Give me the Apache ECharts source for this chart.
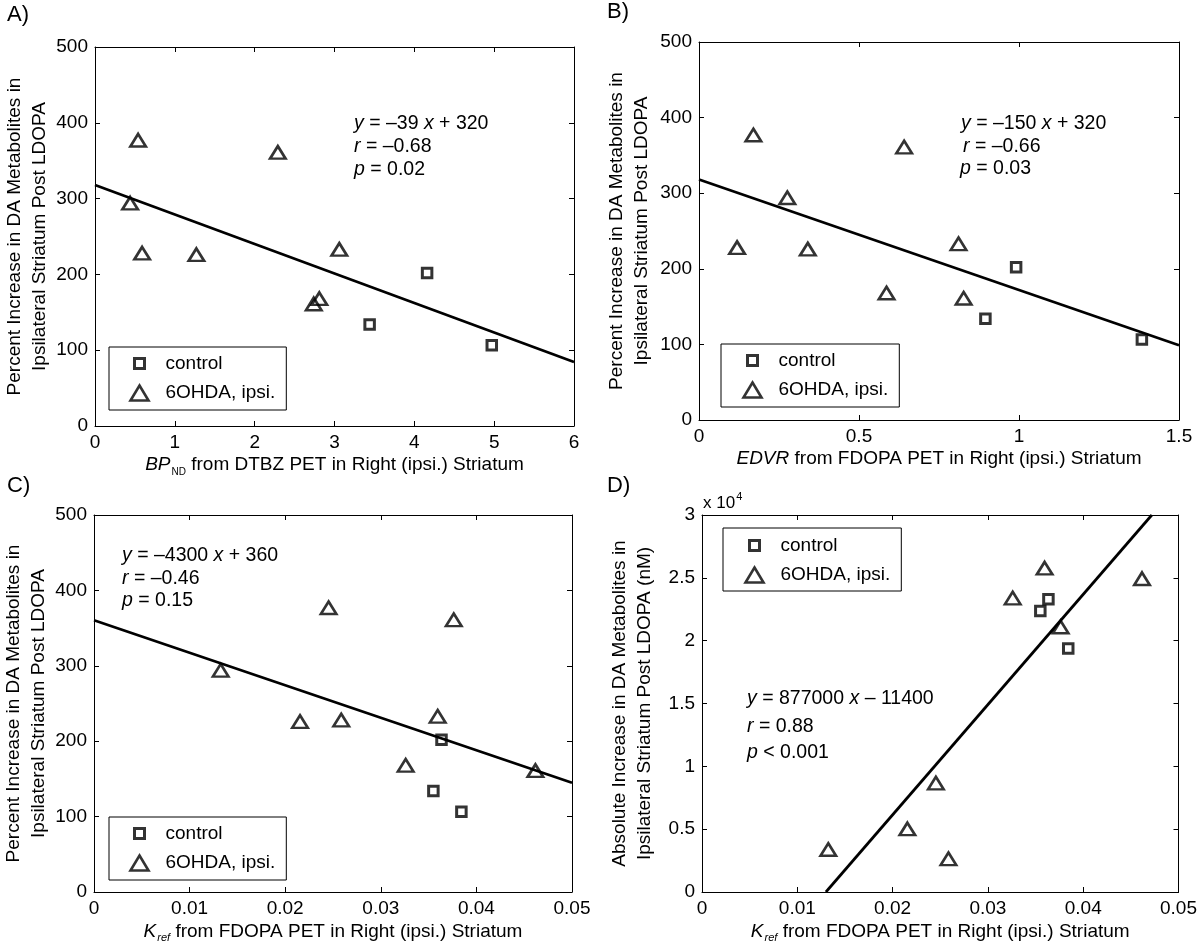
<!DOCTYPE html>
<html><head><meta charset="utf-8">
<script src="https://cdn.jsdelivr.net/npm/echarts@6/dist/echarts.min.js"></script>
<style>html,body{margin:0;padding:0;background:#fff}#c{width:1200px;height:951px}</style>
</head><body><div id="c"></div>
<script>
// ---- data ----
const ctrlPct  = [202, 134, 106.5];
const ohdaPct  = [377, 294, 228, 226, 361, 161, 168, 233];
const ctrlBP   = [4.16, 3.44, 4.97];
const ohdaBP   = [0.54, 0.44, 0.59, 1.27, 2.29, 2.74, 2.81, 3.06];
const ctrlEDVR = [0.991, 0.895, 1.384];
const ohdaEDVR = [0.17, 0.276, 0.119, 0.34, 0.641, 0.827, 0.586, 0.811];
const ctrlKref = [0.03635, 0.0355, 0.03843];
const ohdaKref = [0.02454, 0.01325, 0.02586, 0.02155, 0.03763, 0.04617, 0.0326, 0.03595];
const ctrlAbs  = [23290, 22360, 19380];
const ohdaAbs  = [8670, 3380, 2640, 5020, 21090, 24930, 23390, 25770];
const fitA = [[0, 318], [6, 84.5]];
const fitB = [[0, 318], [1.5, 99]];
const fitC = [[0, 360.5], [0.05, 145]];
const fitD = [[0.0130, 0], [0.0472, 30000]];
const ticksBP   = [0, 1, 2, 3, 4, 5, 6];
const ticksEDVR = [0, 0.5, 1, 1.5];
const ticksKref = [0, 0.01, 0.02, 0.03, 0.04, 0.05];
const ticksPct  = [0, 100, 200, 300, 400, 500];
const ticksAbs  = [0, 5000, 10000, 15000, 20000, 25000, 30000];
const eqA = ['{i|y} = \u201339 {i|x} + 320', '{i|r} = \u20130.68', '{i|p} = 0.02'];
const eqB = ['{i|y} = \u2013150 {i|x} + 320', '{i|r} = \u20130.66', '{i|p} = 0.03'];
const eqC = ['{i|y} = \u20134300 {i|x} + 360', '{i|r} = \u20130.46', '{i|p} = 0.15'];
const eqD = ['{i|y} = 877000 {i|x} \u2013 11400', '{i|r} = 0.88', '{i|p} < 0.001'];

const FONT = 'Liberation Sans';
const pctName = 'Percent Increase in DA Metabolites in\nIpsilateral Striatum Post LDOPA';
const absName = 'Absolute Increase in DA Metabolites in\nIpsilateral Striatum Post LDOPA (nM)';
const krefName = '{i|K}{sub|ref}{n| from FDOPA PET in Right (ipsi.) Striatum}';

const panels = [
  {letter:'A)', lx:7, ly:15, grid:{left:95, top:47, width:479, height:379}, yGap:43,
   xT:ticksBP, yT:ticksPct, xName:'{i|BP}{subn|ND}{n| from DTBZ PET in Right (ipsi.) Striatum}', yName:pctName,
   ctrl:[ctrlBP, ctrlPct], ohda:[ohdaBP, ohdaPct], fit:fitA,
   eq:eqA, eqPos:[[354,124],[354,147],[354,170]],
   leg:{left:109, top:347, pad:[7,11,7,20]}},
  {letter:'B)', lx:607, ly:12, grid:{left:699, top:42, width:480, height:378}, yGap:45,
   xT:ticksEDVR, yT:ticksPct, xName:'{i|EDVR}{n| from FDOPA PET in Right (ipsi.) Striatum}', yName:pctName,
   ctrl:[ctrlEDVR, ctrlPct], ohda:[ohdaEDVR, ohdaPct], fit:fitB,
   eq:eqB, eqPos:[[961,124],[963,147],[960,169]],
   leg:{left:721, top:344, pad:[7,11,7,21]}},
  {letter:'C)', lx:7, ly:486, grid:{left:94, top:515, width:478, height:377}, yGap:43,
   xT:ticksKref, yT:ticksPct, xName:krefName, yName:pctName,
   ctrl:[ctrlKref, ctrlPct], ohda:[ohdaKref, ohdaPct], fit:fitC,
   eq:eqC, eqPos:[[122,556],[122,579],[122,601]],
   leg:{left:109, top:817, pad:[7,11,7,20]}},
  {letter:'D)', lx:607, ly:486, grid:{left:702, top:515, width:479, height:377}, yGap:45,
   xT:ticksKref, yT:ticksAbs, xName:krefName, yName:absName, yFmt:v => String(v/10000),
   ctrl:[ctrlKref, ctrlAbs], ohda:[ohdaKref, ohdaAbs], fit:fitD,
   eq:eqD, eqPos:[[747,699],[747,727],[747,753]],
   leg:{left:723, top:528, pad:[8,11,6,21]}}
];

const rich = {
  i:{fontStyle:'italic', fontSize:19, fontFamily:FONT, color:'#000', lineHeight:24},
  n:{fontSize:19, fontFamily:FONT, color:'#000', lineHeight:24},
  sub:{fontStyle:'italic', fontSize:11, fontFamily:FONT, color:'#000', lineHeight:10, padding:[14,0,0,1]},
  subn:{fontSize:10, fontFamily:FONT, color:'#000', lineHeight:10, padding:[14,0,0,1]}
};

function rng(t){ return {min:t[0], max:t[t.length-1], interval:t[1]-t[0]}; }

const grid=[], xAxis=[], yAxis=[], series=[], legend=[], graphic=[];
panels.forEach((p, gi) => {
  grid.push(Object.assign({containLabel:false}, p.grid));
  const xr = rng(p.xT), yr = rng(p.yT);
  [true,false].forEach(main => {
    xAxis.push(Object.assign({gridIndex:gi, type:'value', position: main?'bottom':'top',
      axisLine:{show:true, onZero:false, lineStyle:{color:'#000', width:1}},
      axisTick:{show:true, inside:true, length:5, lineStyle:{color:'#000'}},
      axisLabel:{show:main, fontSize:19, color:'#000', fontFamily:FONT, margin:7},
      splitLine:{show:false},
      name: main ? p.xName : '', nameLocation:'middle', nameGap:27,
      nameTextStyle:{fontSize:19, fontFamily:FONT, color:'#000', rich:rich}}, xr));
    yAxis.push(Object.assign({gridIndex:gi, type:'value', position: main?'left':'right',
      axisLine:{show:true, onZero:false, lineStyle:{color:'#000', width:1}},
      axisTick:{show:true, inside:true, length:5, lineStyle:{color:'#000'}},
      axisLabel:{show:main, fontSize:19, color:'#000', fontFamily:FONT, margin:7, formatter: p.yFmt},
      splitLine:{show:false},
      name: main ? p.yName : '', nameLocation:'middle', nameRotate:90, nameGap:p.yGap,
      nameTextStyle:{fontSize:19, fontFamily:FONT, color:'#000', lineHeight:24.5}}, yr));
  });
  const xi = gi*2, yi = gi*2;
  series.push({type:'line', xAxisIndex:xi, yAxisIndex:yi, data:p.fit, symbol:'none', silent:true,
    lineStyle:{color:'#000', width:2.7}, z:2});
  series.push({type:'scatter', name:'control', xAxisIndex:xi, yAxisIndex:yi,
    data:p.ctrl[0].map((x,i)=>[x, p.ctrl[1][i]]), symbol:'rect', symbolSize:9.5,
    itemStyle:{color:'rgba(255,255,255,0)', borderColor:'#000', borderWidth:3}, z:3});
  series.push({type:'scatter', name:'6OHDA, ipsi.', xAxisIndex:xi, yAxisIndex:yi,
    data:p.ohda[0].map((x,i)=>[x, p.ohda[1][i]]), symbol:'triangle', symbolSize:[15.5,12.5],
    itemStyle:{color:'rgba(255,255,255,0)', borderColor:'#000', borderWidth:2.6}, z:3});
  legend.push({left:p.leg.left, top:p.leg.top, orient:'vertical',
    data:[{name:'control', icon:'path://M0,0M18,15M4,2L14,2L14,12L4,12Z',
           itemStyle:{color:'rgba(255,255,255,0)', borderColor:'#000', borderWidth:3}},
          {name:'6OHDA, ipsi.', icon:'path://M9,0L18,15L0,15Z',
           itemStyle:{color:'rgba(255,255,255,0)', borderColor:'#000', borderWidth:2.6}}],
    padding:p.leg.pad, itemGap:9, itemWidth:18, itemHeight:15, selectedMode:false,
    borderColor:'#000', borderWidth:1, backgroundColor:'#fff',
    textStyle:{fontSize:19, fontFamily:FONT, color:'#000', lineHeight:20, padding:[0,0,0,12]}});
  graphic.push({type:'text', x:p.lx, y:p.ly, style:{text:p.letter, fontSize:22, fontFamily:FONT, fill:'#000', verticalAlign:'middle'}});
  p.eq.forEach((t, k) => {
    graphic.push({type:'text', x:p.eqPos[k][0], y:p.eqPos[k][1], z:10,
      style:{text:t, fontSize:19.5, fontFamily:FONT, fill:'#000', verticalAlign:'middle',
        rich:{i:{fontStyle:'italic', fontSize:19.5, fontFamily:FONT, fill:'#000'}}}});
  });
});
graphic.push({type:'text', x:703, y:503, style:{text:'x 10{sup|4}', fontSize:17, fontFamily:FONT, fill:'#000', verticalAlign:'middle',
  rich:{sup:{fontSize:11, fontFamily:FONT, fill:'#000', padding:[0,0,12,1]}}}});

const chart = echarts.init(document.getElementById('c'));
chart.setOption({animation:false, backgroundColor:'#fff', grid, xAxis, yAxis, series, legend, graphic});
</script></body></html>
